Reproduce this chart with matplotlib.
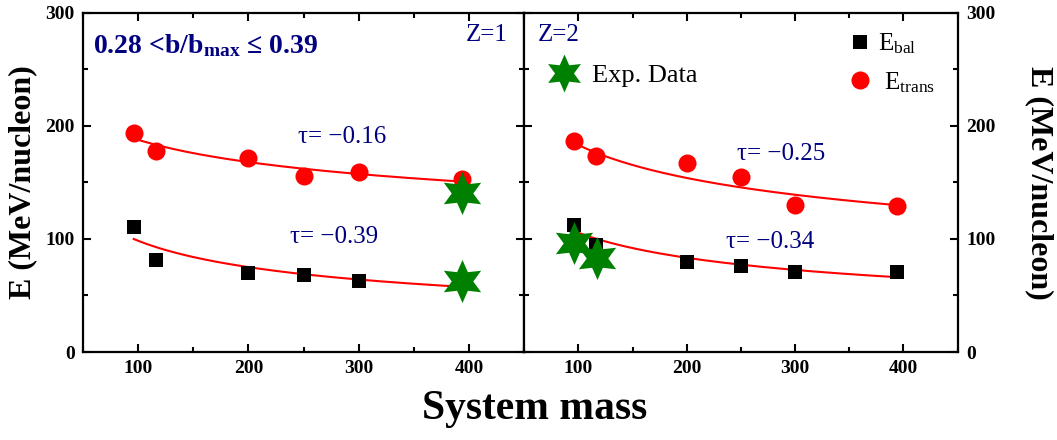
import numpy as np
import matplotlib
matplotlib.use("Agg")
import matplotlib.pyplot as plt
from matplotlib.ticker import MultipleLocator

plt.rcParams["font.family"] = ["Liberation Serif", "DejaVu Serif"]
plt.rcParams["mathtext.fontset"] = "custom"
plt.rcParams["mathtext.rm"] = "Liberation Serif"
plt.rcParams["mathtext.it"] = "Liberation Serif:italic"
plt.rcParams["mathtext.bf"] = "Liberation Serif:bold"

# System masses (A_target + A_projectile)
mass = [96, 116, 200, 250, 300, 394]

# Z=1 energies (MeV/nucleon)
z1_trans = [194, 178, 172, 156, 159, 153]
z1_bal = [111, 81, 70, 68, 63, 62]
z1_exp_mass = [394, 394]
z1_exp = [141, 63]

# Z=2 energies (MeV/nucleon)
z2_trans = [187, 173, 167, 155, 130, 129]
z2_bal = [112, 95, 80, 76, 70.5, 70.5]
z2_exp_mass = [96, 117]
z2_exp = [96.5, 83]

# Power-law fits E = E0 * (A / A0)^tau, normalised at the lightest system
fit_mass0 = 96
z1_trans_fit = (189, -0.16)
z1_bal_fit = (100, -0.39)
z2_trans_fit = (185, -0.25)
z2_bal_fit = (107, -0.34)

x_ticks = [100, 200, 300, 400]
y_ticks = [0, 100, 200, 300]

NAVY = "#000080"
RED = "#FF0000"
GREEN = "#008000"

fig = plt.figure(figsize=(10.57, 4.40), dpi=100)
ax1 = fig.add_axes([0.0785, 0.2, 0.4175, 0.7705])
ax2 = fig.add_axes([0.496, 0.2, 0.410, 0.7705])

sq_kw = dict(ls="none", marker="s", ms=10.5, color="black", mec="black", mew=0)
ci_kw = dict(ls="none", marker="o", ms=13, color=RED, mec=RED, mew=0)
st_kw = dict(ls="none", marker=(6, 1, 0), ms=31, color=GREEN, mec=GREEN, mew=0)


def power_fit(ax, params):
    e0, tau = params
    m = np.linspace(mass[0], mass[-1], 200)
    ax.plot(m, e0 * (m / fit_mass0) ** tau, color=RED, lw=1.5, zorder=2)


def style(ax):
    ax.set_xlim(50, 450)
    ax.set_ylim(0, 300)
    ax.set_xticks(x_ticks)
    ax.set_yticks(y_ticks)
    ax.xaxis.set_minor_locator(MultipleLocator(50))
    ax.yaxis.set_minor_locator(MultipleLocator(50))
    ax.tick_params(which="both", direction="in", top=True, right=True,
                   width=1.5, labelsize=14, pad=6)
    ax.tick_params(which="major", length=6)
    ax.tick_params(which="minor", length=3.5)
    for s in ax.spines.values():
        s.set_linewidth(1.6)
    for axis in (ax.xaxis, ax.yaxis):
        for t in axis.get_major_ticks():
            t.label1.set_fontweight("bold")
            t.label2.set_fontweight("bold")


# ---- Z = 1 ----
power_fit(ax1, z1_trans_fit)
power_fit(ax1, z1_bal_fit)
ax1.plot(mass, z1_trans, zorder=3, **ci_kw)
ax1.plot(mass, z1_bal, zorder=3, **sq_kw)
ax1.plot(z1_exp_mass, z1_exp, zorder=4, **st_kw)
style(ax1)
ax1.set_ylabel("E (MeV/nucleon)", fontsize=23, fontweight="bold", labelpad=6)
ax1.text(0.022, 0.905, r"0.28 <b/b$_{\mathbf{max}}$ ≤ 0.39", transform=ax1.transAxes,
         fontsize=20, fontweight="bold", color=NAVY, va="center")
ax1.text(0.962, 0.935, "Z=1", transform=ax1.transAxes, fontsize=18,
         color=NAVY, ha="right", va="center")
ax1.text(0.487, 0.635, "τ= −0.16", transform=ax1.transAxes, fontsize=18,
         color=NAVY, va="center")
ax1.text(0.47, 0.34, "τ= −0.39", transform=ax1.transAxes, fontsize=18,
         color=NAVY, va="center")

# ---- Z = 2 ----
power_fit(ax2, z2_trans_fit)
power_fit(ax2, z2_bal_fit)
h_trans, = ax2.plot(mass, z2_trans, zorder=3, **ci_kw)
h_bal, = ax2.plot(mass, z2_bal, zorder=3, **sq_kw)
h_exp, = ax2.plot(z2_exp_mass, z2_exp, zorder=4, **st_kw)
style(ax2)
ax2.tick_params(axis="y", which="both", labelleft=False, labelright=True)
ax2.yaxis.set_label_position("right")
ax2.set_ylabel("E (MeV/nucleon)", fontsize=23, fontweight="bold",
               rotation=-90, labelpad=42)
ax2.text(0.03, 0.935, "Z=2", transform=ax2.transAxes, fontsize=18,
         color=NAVY, ha="left", va="center")
ax2.text(0.49, 0.585, "τ= −0.25", transform=ax2.transAxes, fontsize=18,
         color=NAVY, va="center")
ax2.text(0.465, 0.325, "τ= −0.34", transform=ax2.transAxes, fontsize=18,
         color=NAVY, va="center")

leg1 = ax2.legend([h_exp], ["Exp. Data"], loc="center left",
                  bbox_to_anchor=(0.055, 0.815), frameon=False,
                  prop=dict(size=19),
                  markerscale=0.88, handlelength=1.2, handletextpad=0.45,
                  borderpad=0, borderaxespad=0)
ax2.add_artist(leg1)
ax2.legend([h_bal, h_trans], [r"E$_{\mathrm{bal}}$", r" E$_{\mathrm{trans}}$"],
           loc="upper left", bbox_to_anchor=(0.745, 0.945), frameon=False,
           prop=dict(size=18),
           handlelength=1.0, handletextpad=0.25, labelspacing=0.55,
           borderpad=0, borderaxespad=0)

fig.text(0.506, 0.07, "System mass", ha="center", va="center",
         fontsize=30, fontweight="bold")

fig.savefig("out.png", dpi=100)
